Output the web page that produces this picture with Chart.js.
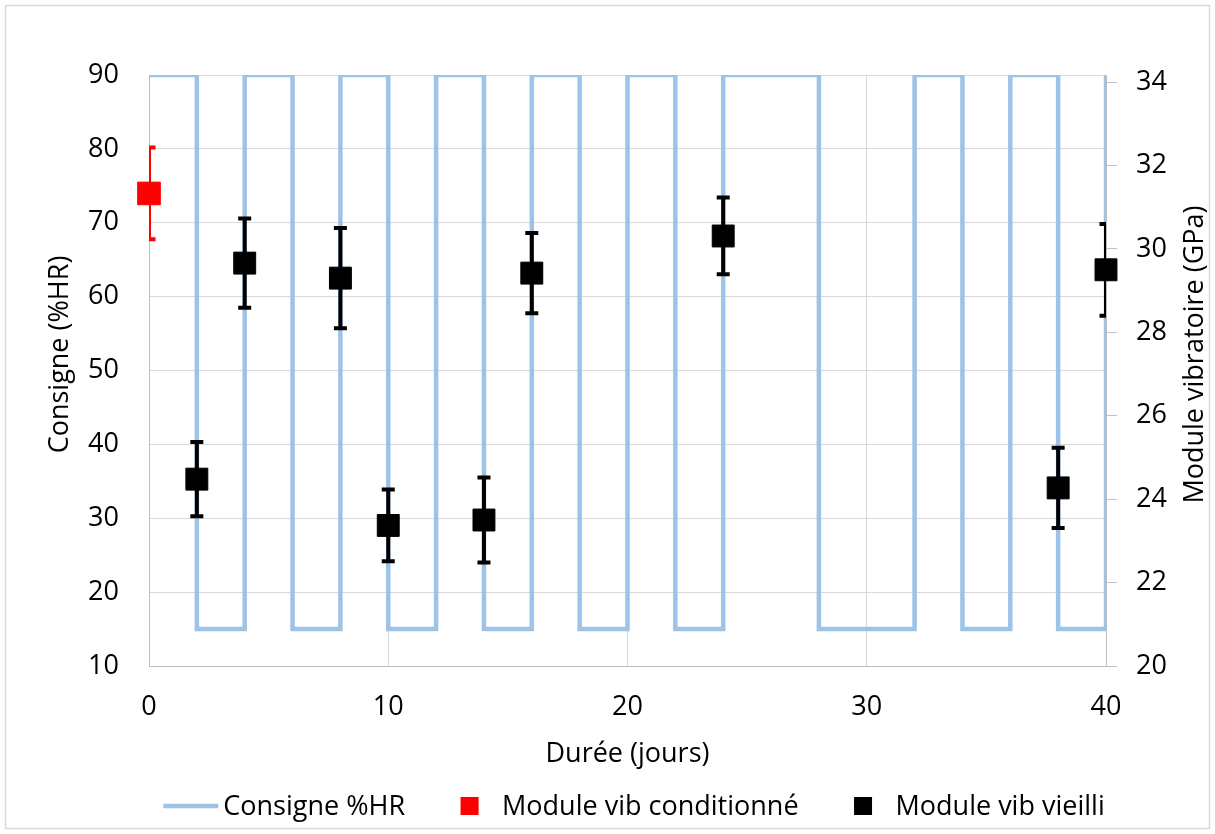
<!DOCTYPE html>
<html>
<head>
<meta charset="utf-8">
<script src="https://cdn.jsdelivr.net/npm/chart.js@4/dist/chart.umd.min.js"></script>
<style>
  html, body { margin: 0; padding: 0; background: #fff; }
</style>
</head>
<body>
<canvas id="moduleChart" width="1215" height="834"></canvas>
<script>
// tick labels
const dayTicks = [0, 10, 20, 30, 40];
const rhTicks = [10, 20, 30, 40, 50, 60, 70, 80, 90];
const gpaTicks = [20, 22, 24, 26, 28, 30, 32, 34];

// consigne %HR : jours de changement et palier
const stepDays = [0, 2, 4, 6, 8, 10, 12, 14, 16, 18, 20, 22, 24, 28, 32, 34, 36, 38, 40];
const stepRH = [90, 15, 90, 15, 90, 15, 90, 15, 90, 15, 90, 15, 90, 15, 90, 15, 90, 15, 90];

// module vibratoire conditionné (GPa)
const condDays = [0];
const condModulus = [31.33];
const condError = [1.10];

// module vibratoire vieilli (GPa)
const agedDays = [2, 4, 8, 10, 14, 16, 24, 38, 40];
const agedModulus = [24.48, 29.66, 29.30, 23.37, 23.50, 29.42, 30.31, 24.27, 29.50];
const agedError = [0.89, 1.07, 1.20, 0.86, 1.02, 0.96, 0.92, 0.96, 1.10];

const FONT = "'Open Sans', sans-serif";
Chart.defaults.font.family = FONT;
Chart.defaults.font.size = 27;
Chart.defaults.color = '#000';

const toPoints = (xs, ys) => xs.map((x, i) => ({ x: x, y: ys[i] }));
const fixedTicks = list => scale => { scale.ticks = list.map(v => ({ value: v })); };

// white background + light frame
const frame = {
    id: 'frame',
    beforeDraw(chart) {
        const ctx = chart.ctx;
        ctx.save();
        ctx.fillStyle = '#fff';
        ctx.fillRect(0, 0, chart.width, chart.height);
        ctx.strokeStyle = '#d9d9d9';
        ctx.lineWidth = 1.5;
        ctx.strokeRect(5.5, 5.5, chart.width - 11, chart.height - 11);
        ctx.restore();
    }
};

// vertical error bars, clipped to the plot like Excel does
const errorBars = {
    id: 'errorBars',
    beforeDatasetDraw(chart, args) {
        const ds = chart.data.datasets[args.index];
        if (!ds.errors) return;
        const { ctx, chartArea } = chart;
        const xs = chart.scales.x, ys = chart.scales[ds.yAxisID];
        ctx.save();
        ctx.beginPath();
        ctx.rect(chartArea.left, chartArea.top, chartArea.width, chartArea.height);
        ctx.clip();
        ctx.strokeStyle = ds.borderColor;
        ctx.lineWidth = 4;
        ds.data.forEach((p, i) => {
            const px = xs.getPixelForValue(p.x);
            const top = ys.getPixelForValue(p.y + ds.errors[i]);
            const bot = ys.getPixelForValue(p.y - ds.errors[i]);
            ctx.beginPath();
            ctx.moveTo(px, top); ctx.lineTo(px, bot);
            ctx.moveTo(px - 6.5, top); ctx.lineTo(px + 6.5, top);
            ctx.moveTo(px - 6.5, bot); ctx.lineTo(px + 6.5, bot);
            ctx.stroke();
        });
        ctx.restore();
    }
};

// both y titles read bottom to top
const yTitles = {
    id: 'yTitles',
    afterDraw(chart) {
        const { ctx, chartArea } = chart;
        const cy = (chartArea.top + chartArea.bottom) / 2 - 16;
        ctx.save();
        ctx.font = '27px ' + FONT;
        ctx.fillStyle = '#000';
        ctx.textAlign = 'center';
        ctx.textBaseline = 'alphabetic';
        [['Consigne (%HR)', 68], ['Module vibratoire (GPa)', 1203]].forEach(([txt, x]) => {
            ctx.save();
            ctx.translate(x, cy);
            ctx.rotate(-Math.PI / 2);
            ctx.fillText(txt, 0, 0);
            ctx.restore();
        });
        ctx.restore();
    }
};

// legend under the x title
const bottomLegend = {
    id: 'bottomLegend',
    afterDraw(chart) {
        const ctx = chart.ctx;
        ctx.save();
        ctx.font = '27px ' + FONT;
        ctx.textBaseline = 'middle';
        ctx.textAlign = 'left';
        const markW = 55, gapText = 5, gapItem = 37, yc = 806;
        const items = chart.data.datasets.map(ds => ({
            label: ds.label, color: ds.borderColor, line: ds.type === 'line'
        }));
        const widths = items.map(it => markW + gapText + ctx.measureText(it.label).width);
        const total = widths.reduce((a, b) => a + b, 0) + gapItem * (items.length - 1);
        let x = 634 - total / 2;
        items.forEach((it, i) => {
            if (it.line) {
                ctx.strokeStyle = it.color;
                ctx.lineWidth = 4.5;
                ctx.beginPath();
                ctx.moveTo(x, yc); ctx.lineTo(x + markW, yc);
                ctx.stroke();
            } else {
                ctx.fillStyle = it.color;
                ctx.fillRect(x + markW / 2 - 9, yc - 9, 18, 18);
            }
            ctx.fillStyle = '#000';
            ctx.fillText(it.label, x + markW + gapText, yc + 1);
            x += widths[i] + gapItem;
        });
        ctx.restore();
    }
};

const ctx = document.getElementById('moduleChart').getContext('2d');
const moduleChart = new Chart(ctx, {
    type: 'scatter',
    data: {
        datasets: [
            {
                type: 'line',
                label: 'Consigne %HR',
                data: toPoints(stepDays, stepRH),
                yAxisID: 'y',
                borderColor: '#9dc3e6',
                backgroundColor: '#9dc3e6',
                borderWidth: 4.5,
                stepped: 'before',
                pointRadius: 0,
                fill: false,
                order: 3
            },
            {
                label: 'Module vib conditionné',
                data: toPoints(condDays, condModulus),
                errors: condError,
                yAxisID: 'y2',
                backgroundColor: '#ff0000',
                borderColor: '#ff0000',
                borderWidth: 1,
                pointStyle: 'rect',
                pointRadius: 16,
                clip: false,
                order: 1
            },
            {
                label: 'Module vib vieilli',
                data: toPoints(agedDays, agedModulus),
                errors: agedError,
                yAxisID: 'y2',
                backgroundColor: '#000000',
                borderColor: '#000000',
                borderWidth: 1,
                pointStyle: 'rect',
                pointRadius: 15.5,
                clip: false,
                order: 2
            }
        ]
    },
    options: {
        responsive: false,
        animation: false,
        devicePixelRatio: 1,
        layout: { padding: { top: 75, left: 0, right: 0, bottom: 0 } },
        plugins: {
            legend: { display: false },
            tooltip: { enabled: false }
        },
        scales: {
            x: {
                type: 'linear',
                min: 0,
                max: 40,
                afterBuildTicks: fixedTicks(dayTicks),
                afterFit: s => { s.height = 168; },
                grid: { color: '#d9d9d9', drawTicks: false },
                border: { color: '#bfbfbf' },
                ticks: { padding: 25 },
                title: {
                    display: true,
                    text: 'Durée (jours)',
                    padding: { top: 0, bottom: 63 }
                }
            },
            y: {
                position: 'left',
                min: 10,
                max: 90,
                afterBuildTicks: fixedTicks(rhTicks),
                afterFit: s => { s.width = 149; },
                grid: { color: '#d9d9d9', drawTicks: false },
                border: { color: '#bfbfbf' },
                ticks: { padding: 30 }
            },
            y2: {
                position: 'right',
                min: 20,
                max: 34.17,
                afterBuildTicks: fixedTicks(gpaTicks),
                afterFit: s => { s.width = 109; },
                grid: { drawOnChartArea: false, drawTicks: true, tickLength: 11, color: '#bfbfbf' },
                border: { color: '#bfbfbf' },
                ticks: { padding: 19 }
            }
        }
    },
    plugins: [frame, errorBars, yTitles, bottomLegend]
});
</script>
</body>
</html>
